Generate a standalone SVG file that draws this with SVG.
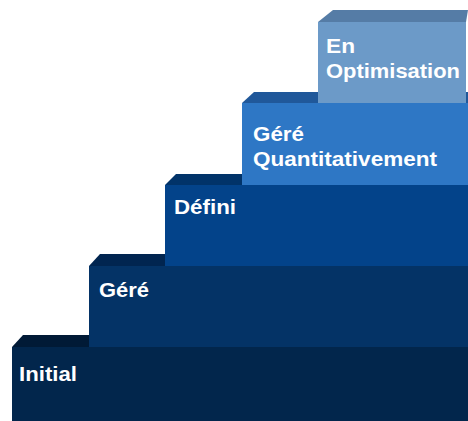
<svg xmlns="http://www.w3.org/2000/svg" width="468" height="421" viewBox="0 0 468 421">
<style>
text{font-family:"Liberation Sans",Arial,sans-serif;font-weight:bold;font-size:20.5px;fill:#ffffff}
</style>
<rect width="468" height="421" fill="#ffffff"/>
<g id="step-initial">
<polygon points="12,347 23,335 468,335 468,347" fill="#011a36"/>
<rect x="12" y="347" width="456" height="74" fill="#02264c"/>
<text x="19" y="381" textLength="58" lengthAdjust="spacingAndGlyphs">Initial</text>
</g>
<g id="step-gere">
<polygon points="89,266 100,254 468,254 468,266" fill="#012550"/>
<rect x="89" y="266" width="379" height="81" fill="#043366"/>
<text x="99" y="297" textLength="50" lengthAdjust="spacingAndGlyphs">Géré</text>
</g>
<g id="step-defini">
<polygon points="165,185 176,174 468,174 468,185" fill="#013369"/>
<rect x="165" y="185" width="303" height="81" fill="#03438a"/>
<text x="174" y="214" textLength="62" lengthAdjust="spacingAndGlyphs">Défini</text>
</g>
<g id="step-gere-quantitativement">
<polygon points="242,103 254,92 468,92 468,103" fill="#20589a"/>
<rect x="242" y="103" width="226" height="82" fill="#2e77c5"/>
<text x="253" y="141" textLength="51" lengthAdjust="spacingAndGlyphs">Géré</text>
<text x="253" y="166" textLength="184" lengthAdjust="spacingAndGlyphs">Quantitativement</text>
</g>
<g id="step-en-optimisation">
<polygon points="318,22 333,10 468,10 466,22" fill="#557ca6"/>
<rect x="318" y="22" width="148" height="81" fill="#6c9ac8"/>
<text x="326" y="53" textLength="29" lengthAdjust="spacingAndGlyphs">En</text>
<text x="326" y="78" textLength="134" lengthAdjust="spacingAndGlyphs">Optimisation</text>
</g>
</svg>
